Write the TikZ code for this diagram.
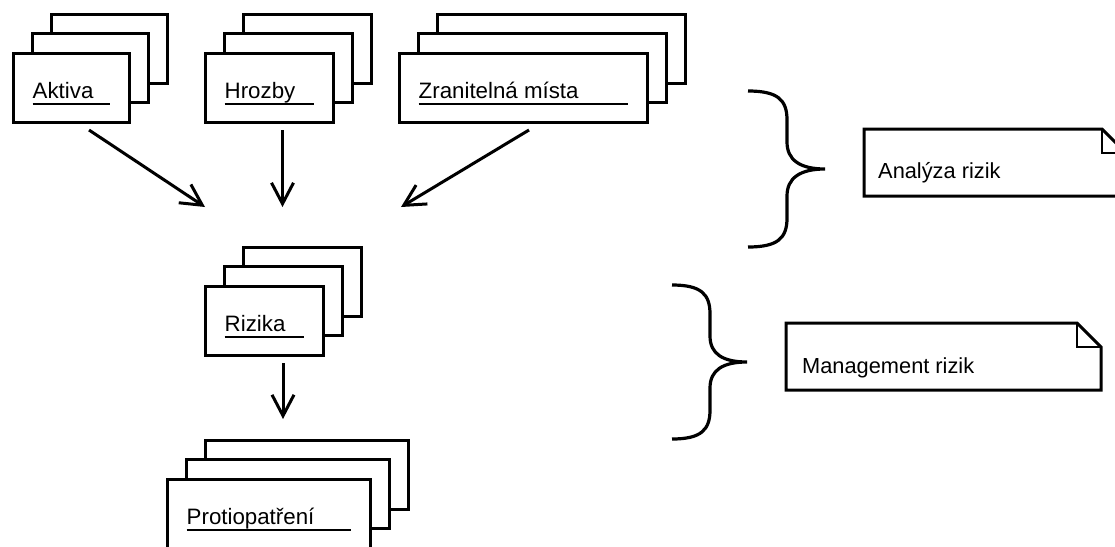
\documentclass[tikz,border=0pt]{standalone}
\usepackage{fontspec}
\setmainfont{Liberation Sans}
\usetikzlibrary{arrows.meta,calc}
\newcommand\mystack[5]{% name, left, top, width, text
  \draw[layer] (#2+38.6,#3-38.6) rectangle ++(#4,69);
  \draw[layer] (#2+19.3,#3-19.3) rectangle ++(#4,69);
  \node[box, minimum width=#4pt, anchor=north west] (#1) at (#2,#3) {};
  \node[lbl] (#1-t) at ($(#1.north west)+(19.5,45)$) {#5};
  \draw[uline] ($(#1.north west)+(19.5,51)$) -- ($(#1.north east)+(-19,51)$);
}
\begin{document}
\begin{tikzpicture}[x=1pt,y=-1pt,
  layer/.style={draw, line width=3pt, fill=white},
  box/.style={draw, line width=3pt, fill=white, inner sep=0pt, outer sep=0pt, minimum height=69pt},
  lbl/.style={anchor=base west, inner sep=0pt, font=\fontsize{22.3}{26}\selectfont},
  notelbl/.style={anchor=base west, inner sep=0pt, font=\fontsize{21.8}{25}\selectfont},
  uline/.style={line width=1.5pt},
  arr/.style={line width=3pt, -{Straight Barb[length=21pt,width=22pt]}},
  bracestyle/.style={line width=3.2pt},
  noteframe/.style={draw=none, inner sep=0pt, outer sep=0pt, minimum height=67pt, anchor=north west},
  noteline/.style={line width=3pt, line join=miter, fill=white},
  fold/.style={line width=1.3pt}
]
\path[use as bounding box] (0,0) rectangle (1115,546);
\clip (0,0) rectangle (1115,546);

% stacks
\mystack{akt}{13}{53}{116}{Aktiva}
\mystack{hro}{205}{53}{128}{Hrozby}
\mystack{zra}{399}{53}{248}{Zranitelná místa}
\mystack{riz}{205}{286}{118}{Rizika}
\mystack{pro}{167}{479}{203}{Protiopatření}

% arrow end points
\coordinate (a1s) at (89,130);
\coordinate (a1e) at (205,207);
\coordinate (a2s) at (282.5,130);
\coordinate (a2e) at (282.5,207);
\coordinate (a3s) at (529,130);
\coordinate (a3e) at (401,207);
\coordinate (a4s) at (283,363);
\coordinate (a4e) at (283,419);
\draw[arr] (a1s) -- (a1e);
\draw[arr] (a2s) -- (a2e);
\draw[arr] (a3s) -- (a3e);
\draw[arr] (a4s) -- (a4e);

% braces
\draw[bracestyle] (748,91) .. controls (778,91) and (787,100) .. (787,120)
  -- (787,142) .. controls (787,160) and (800,169) .. (825,169)
  .. controls (800,169) and (787,178) .. (787,196)
  -- (787,218) .. controls (787,238) and (778,247) .. (748,247);
\draw[bracestyle] (672,285) .. controls (701,285) and (710,294) .. (710,314)
  -- (710,336) .. controls (710,354) and (723,362) .. (747,362)
  .. controls (723,362) and (710,370) .. (710,388)
  -- (710,410) .. controls (710,430) and (701,439) .. (672,439);

% notes
\node[noteframe, minimum width=262pt] (n1) at (864,129) {};
\draw[noteline] (n1.north west) -- ($(n1.north east)+(-24,0)$) -- ($(n1.north east)+(0,24)$)
  -- (n1.south east) -- (n1.south west) -- cycle;
\draw[fold] ($(n1.north east)+(-24,0)$) |- ($(n1.north east)+(0,24)$);
\node[notelbl] (n1-t) at ($(n1.north west)+(14,49)$) {Analýza rizik};

\node[noteframe, minimum width=315pt] (n2) at (786,323) {};
\draw[noteline] (n2.north west) -- ($(n2.north east)+(-24,0)$) -- ($(n2.north east)+(0,24)$)
  -- (n2.south east) -- (n2.south west) -- cycle;
\draw[fold] ($(n2.north east)+(-24,0)$) |- ($(n2.north east)+(0,24)$);
\node[notelbl] (n2-t) at ($(n2.north west)+(16,50)$) {Management rizik};
\end{tikzpicture}
\end{document}
